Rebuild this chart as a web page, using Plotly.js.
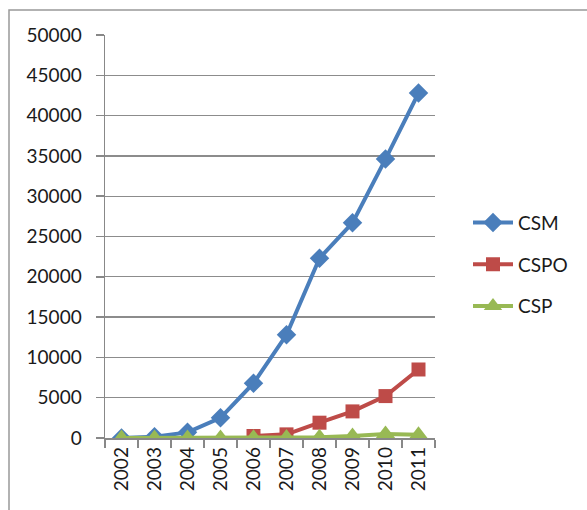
<!DOCTYPE html>
<html>
<head>
<meta charset="utf-8">
<script src="https://cdn.plot.ly/plotly-3.0.1.min.js"></script>
<style>html,body{margin:0;padding:0;background:#fff;}#chart{width:587px;height:510px;}</style>
</head>
<body>
<div id="chart"></div>
<script>
const years = ['2002','2003','2004','2005','2006','2007','2008','2009','2010','2011'];
const csm  = [0, 150, 700, 2500, 6800, 12800, 22300, 26700, 34600, 42800];
const cspo = [null, null, null, null, 250, 450, 1900, 3300, 5200, 8500];
const csp  = [0, 0, 0, 0, 20, 50, 100, 250, 500, 400];
const seriesNames = ['CSM', 'CSPO', 'CSP'];

const fontFam = 'Lato, "Open Sans", sans-serif';
const traces = [
  {x: years, y: csm, name: seriesNames[0], legendgroup: 'a', mode: 'lines+markers',
   line: {color: '#4A7EBB', width: 4}, marker: {symbol: 'diamond', size: 15, color: '#4A7EBB'}},
  {x: years, y: cspo, name: seriesNames[1], legendgroup: 'b', mode: 'lines+markers',
   line: {color: '#BE4B48', width: 4}, marker: {symbol: 'square', size: 14, color: '#BE4B48'}},
  {x: years, y: csp, name: seriesNames[2], legendgroup: 'c', mode: 'lines+markers',
   line: {color: '#98B954', width: 4}, marker: {symbol: 'triangle-up', size: 17, color: '#98B954'}}
];
const layout = {
  width: 587, height: 510,
  margin: {l: 105, r: 152, t: 35, b: 72},
  paper_bgcolor: '#fff', plot_bgcolor: '#fff',
  font: {family: fontFam, size: 19, color: '#1a1a1a'},
  showlegend: true,
  legend: {x: 1.1, y: 0.43, xanchor: 'left', yanchor: 'middle', traceorder: 'grouped',
           tracegroupgap: 14, font: {family: fontFam, size: 19, color: '#1a1a1a'}, itemwidth: 40},
  xaxis: {type: 'category', range: [-0.5, 9.5], tickangle: -90, showgrid: false,
          showline: true, linecolor: '#888', linewidth: 1.5, ticks: 'outside', tickson: 'boundaries',
          ticklen: 8, tickcolor: '#888', tickwidth: 1.5, fixedrange: true,
          tickfont: {family: fontFam, size: 19, color: '#1a1a1a'}},
  yaxis: {range: [0, 50000], dtick: 5000, tickformat: 'd', showgrid: true, gridcolor: '#8c8c8c', gridwidth: 1.3,
          showline: true, linecolor: '#888', linewidth: 1.5, ticks: 'outside', ticklen: 8,
          tickcolor: '#888', tickwidth: 1.5, zeroline: false, ticklabelstandoff: 10,
          tickfont: {family: fontFam, size: 19, color: '#1a1a1a'}, fixedrange: true},
  shapes: [{type: 'rect', xref: 'paper', yref: 'paper',
            x0: -96/330, x1: 1.6, y0: -0.5, y1: 1 + 25/403,
            line: {color: '#999', width: 1.5}, fillcolor: 'rgba(0,0,0,0)', layer: 'below'}]
};
Plotly.newPlot('chart', traces, layout, {staticPlot: true});
</script>
</body>
</html>
